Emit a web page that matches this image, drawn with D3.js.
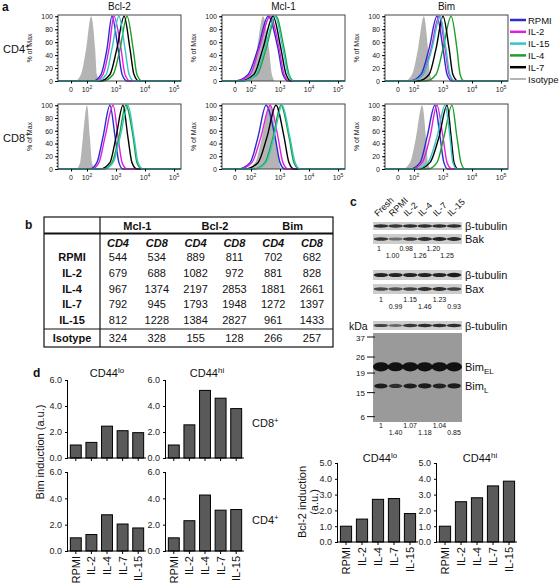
<!DOCTYPE html>
<html><head><meta charset="utf-8">
<script src="https://cdn.jsdelivr.net/npm/d3@7"></script>
<style>body{margin:0;background:#fff} svg{display:block} text{font-family:"Liberation Sans",Arial,Helvetica,sans-serif;fill:#111}</style>
</head><body><svg id="c" width="560" height="588"></svg>
<script>
// ================= DATA =================
// (a) flow histograms
const histTitles = ["Bcl-2","Mcl-1","Bim"];
const histRowLabels = ["CD4","CD8"];
const legendItems = ["RPMI","IL-2","IL-15","IL-4","IL-7","Isotype"];
const histTickVals = [1.45,2,3,4,5];
const histTickBase = ["0","10","10","10","10"];
const histTickExp = ["","2","3","4","5"];
const pctTicks = [0,20,40,60,80,100];
const pctLevels = [0,10,50,100,50,10,0];       // % of max at each point below
// log10 fluorescence at each pctLevel
const hBcl2CD4 = {
 Isotype:[1.59,1.79,1.97,2.14,2.28,2.34,2.45],
 RPMI:[2.21,2.48,2.69,2.86,3.07,3.21,3.38],
 "IL-2":[2.28,2.55,2.76,2.93,3.17,3.31,3.48],
 "IL-15":[2.34,2.66,2.86,3.10,3.31,3.45,3.62],
 "IL-7":[2.45,2.79,3.03,3.28,3.48,3.62,3.79],
 "IL-4":[2.55,2.90,3.14,3.38,3.59,3.72,3.90]};
const hBcl2CD8 = {
 Isotype:[1.62,1.76,1.86,2.00,2.10,2.17,2.28],
 RPMI:[2.10,2.34,2.55,2.79,2.97,3.10,3.24],
 "IL-2":[2.17,2.41,2.62,2.90,3.07,3.21,3.38],
 "IL-7":[2.45,2.79,3.00,3.24,3.41,3.55,3.72],
 "IL-15":[2.59,2.90,3.14,3.41,3.62,3.76,3.93],
 "IL-4":[2.55,2.86,3.10,3.34,3.59,3.72,3.90]};
const hMcl1CD4 = {
 Isotype:[1.62,1.97,2.21,2.41,2.62,2.72,2.83],
 RPMI:[1.45,1.90,2.24,2.59,2.93,3.10,3.28],
 "IL-2":[1.48,1.97,2.28,2.66,2.97,3.14,3.31],
 "IL-7":[1.62,2.10,2.41,2.76,3.03,3.21,3.38],
 "IL-15":[1.69,2.17,2.48,2.83,3.10,3.28,3.45],
 "IL-4":[1.69,2.21,2.52,2.86,3.14,3.31,3.48]};
const hMcl1CD8 = {
 Isotype:[1.79,2.14,2.38,2.66,2.86,2.97,3.07],
 RPMI:[1.55,1.97,2.24,2.52,2.83,3.00,3.17],
 "IL-2":[1.62,2.03,2.34,2.66,2.93,3.10,3.28],
 "IL-7":[1.79,2.24,2.55,2.86,3.14,3.31,3.48],
 "IL-15":[2.14,2.52,2.79,3.07,3.34,3.52,3.69],
 "IL-4":[2.10,2.48,2.76,3.03,3.31,3.48,3.66]};
const hBimCD4 = {
 Isotype:[1.69,1.93,2.14,2.34,2.48,2.55,2.66],
 RPMI:[1.86,2.24,2.52,2.79,3.00,3.14,3.31],
 "IL-2":[1.93,2.31,2.59,2.86,3.07,3.21,3.38],
 "IL-15":[1.93,2.31,2.62,2.90,3.10,3.24,3.41],
 "IL-7":[2.14,2.52,2.76,3.00,3.21,3.34,3.52],
 "IL-4":[2.41,2.76,3.00,3.28,3.48,3.59,3.72]};
const hBimCD8 = {
 Isotype:[1.59,1.86,2.07,2.28,2.41,2.48,2.59],
 RPMI:[1.86,2.21,2.45,2.72,2.90,3.03,3.17],
 "IL-2":[1.93,2.28,2.55,2.79,3.00,3.14,3.31],
 "IL-15":[2.07,2.48,2.79,3.07,3.24,3.34,3.48],
 "IL-7":[2.14,2.55,2.86,3.14,3.28,3.38,3.52],
 "IL-4":[2.48,2.79,3.03,3.31,3.48,3.62,3.76]};

// (b) MFI table
const tableGroups = ["Mcl-1","Bcl-2","Bim"];
const tableSub = ["CD4","CD8","CD4","CD8","CD4","CD8"];
const tableRows = ["RPMI","IL-2","IL-4","IL-7","IL-15","Isotype"];
const tMcl1CD4 = [544,679,967,792,812,324];
const tMcl1CD8 = [534,688,1374,945,1228,328];
const tBcl2CD4 = [889,1082,2197,1793,1384,155];
const tBcl2CD8 = [811,972,2853,1948,2827,128];
const tBimCD4  = [702,881,1881,1272,961,266];
const tBimCD8  = [682,828,2661,1397,1433,257];

// (c) western blots
const lanes = ["Fresh","RPMI","IL-2","IL-4","IL-7","IL-15"];
const bakRatio = ["1","1.00","0.98","1.26","1.20","1.25"];
const baxRatio = ["1","0.99","1.15","1.46","1.23","0.93"];
const bimRatio = ["1","1.40","1.07","1.18","1.04","0.85"];
const tub1Band = [0.85,0.80,0.85,0.85,0.85,0.85];
const bakBand  = [0.80,0.50,0.80,0.85,0.90,0.85];
const tub2Band = [0.90,0.90,0.90,0.90,0.90,0.95];
const baxBand  = [0.70,0.65,0.75,0.85,0.85,0.75];
const tub3Band = [0.75,0.55,0.80,0.85,0.85,0.85];
const bimELBand = [1.00,0.90,1.00,1.00,1.00,1.00];
const bimLBand  = [0.80,0.55,0.80,0.85,0.75,0.85];
const kdaMarkers = ["37","26","19","15","6"];
const kdaRf = [0.045,0.27,0.45,0.67,0.94];   // relative migration
const bimELRf = 0.38, bimLRf = 0.595;

// (d) induction bar charts
const barCats = ["RPMI","IL-2","IL-4","IL-7","IL-15"];
const bimCD8lo = [1.0,1.2,2.45,2.1,1.95];
const bimCD8hi = [1.0,2.55,5.2,4.6,3.8];
const bimCD4lo = [1.0,1.25,2.75,2.05,1.75];
const bimCD4hi = [1.0,2.3,4.25,3.1,3.15];
const bcl2lo = [1.0,1.45,2.7,2.75,1.8];
const bcl2hi = [1.0,2.55,2.8,3.55,3.85];
const bimTicks = [0,2,4,6];
const bcl2Ticks = [0,1,2,3,4,5];

// ================= STYLE =================
const color = {RPMI:"#2b2bd0","IL-2":"#e020e0","IL-15":"#33c6c6","IL-4":"#1e9e2a","IL-7":"#000000",Isotype:"#b4b4b4"};
const lineOrder = ["RPMI","IL-2","IL-4","IL-7","IL-15"];
const svg = d3.select("#c");

function label(x,y,t,o={}){
  return svg.append("text").attr("x",x).attr("y",y).text(t)
    .attr("font-size",o.size||11).attr("font-weight",o.bold?"bold":null)
    .attr("font-style",o.italic?"italic":null).attr("text-anchor",o.anchor||"start");
}
function supLabel(x,y,base,sup,o={}){
  const t = svg.append("text").attr("x",x).attr("y",y).attr("font-size",o.size||11)
    .attr("text-anchor",o.anchor||"start");
  t.append("tspan").text(base);
  t.append("tspan").text(sup).attr("font-size",(o.size||11)*0.72).attr("dy",-(o.size||11)*0.4);
  return t;
}

// ================= (a) =================
label(2,11,"a",{size:12,bold:true});
const colLeft=[58,222,385], boxW=123;
const rowTop=[15,104], rowBot=[81,169];
const histData=[[hBcl2CD4,hMcl1CD4,hBimCD4],[hBcl2CD8,hMcl1CD8,hBimCD8]];
histTitles.forEach((t,c)=>label(colLeft[c]+boxW/2,10,t,{size:10,anchor:"middle"}));
histRowLabels.forEach((t,r)=>supLabel(3,(rowTop[r]+rowBot[r])/2+5,t,"+",{size:11}));

for(let r=0;r<2;r++)for(let c=0;c<3;c++){
  const L=colLeft[c], T=rowTop[r], B=rowBot[r];
  const x=d3.scaleLinear().domain([1.0,5.24]).range([L,L+boxW]);
  const y=d3.scaleLinear().domain([0,102]).range([B,T]);
  const g=svg.append("g");
  const hd=histData[r][c];
  const pts=k=>[[1.0,0]].concat(hd[k].map((v,i)=>[v,pctLevels[i]])).concat([[5.24,0]]);
  g.append("path").datum(pts("Isotype"))
    .attr("d",d3.area().x(d=>x(d[0])).y0(y(0)).y1(d=>y(d[1])).curve(d3.curveMonotoneX))
    .attr("fill",color.Isotype).attr("stroke","none");
  lineOrder.forEach(k=>{
    g.append("path").datum(pts(k))
      .attr("d",d3.line().x(d=>x(d[0])).y(d=>y(d[1])).curve(d3.curveMonotoneX))
      .attr("fill","none").attr("stroke",color[k]).attr("stroke-width",1.4);
  });
  g.append("rect").attr("x",L).attr("y",T).attr("width",boxW).attr("height",B-T)
    .attr("fill","none").attr("stroke","#444").attr("stroke-width",1);
  // y axis
  const ya=svg.append("g").attr("transform",`translate(${L},0)`)
    .call(d3.axisLeft(y).tickValues(pctTicks).tickSize(3).tickPadding(2));
  ya.select(".domain").remove();
  ya.selectAll("text").attr("font-size",7).style("fill","#222");
  const ym=svg.append("g").attr("transform",`translate(${L},0)`)
    .call(d3.axisLeft(y).tickValues(d3.range(0,101,5)).tickSize(1.5).tickFormat(""));
  ym.select(".domain").remove();
  // x axis
  const xa=svg.append("g").attr("transform",`translate(0,${B})`)
    .call(d3.axisBottom(x).tickValues(histTickVals).tickSize(2.5).tickFormat(""));
  xa.select(".domain").remove();
  histTickVals.forEach((v,i)=>{
    const tx=svg.append("text").attr("x",x(v)).attr("y",B+11).attr("font-size",7)
      .attr("text-anchor","middle").style("fill","#222");
    tx.append("tspan").text(histTickBase[i]);
    if(histTickExp[i]) tx.append("tspan").text(histTickExp[i]).attr("font-size",5).attr("dy",-3);
  });
  // y title
  svg.append("text").attr("transform",`translate(${L-26},${(T+B)/2}) rotate(-90)`)
    .attr("text-anchor","middle").attr("font-size",7).style("fill","#222").text("% of Max");
}
// legend
const legY=d3.scalePoint().domain(legendItems).range([20,79]);
legendItems.forEach(k=>{
  svg.append("line").attr("x1",510).attr("x2",526).attr("y1",legY(k)).attr("y2",legY(k))
    .attr("stroke",color[k]).attr("stroke-width",k==="Isotype"?2:2.5);
  label(528,legY(k)+3.5,k,{size:9.5});
});

// ================= (b) =================
label(25,229,"b",{size:12,bold:true});
const tL=44,tR=333,tT=217,tB=347,tV=100;
svg.append("rect").attr("x",tL).attr("y",tT).attr("width",tR-tL).attr("height",tB-tT)
  .attr("fill","none").attr("stroke","#111").attr("stroke-width",1.2);
svg.append("line").attr("x1",tV).attr("x2",tV).attr("y1",tT).attr("y2",tB).attr("stroke","#111").attr("stroke-width",1.2);
svg.append("line").attr("x1",tL).attr("x2",tR).attr("y1",233.5).attr("y2",233.5).attr("stroke","#111").attr("stroke-width",2);
svg.append("line").attr("x1",tL).attr("x2",tR).attr("y1",329).attr("y2",329).attr("stroke","#111").attr("stroke-width",1.2);
const colX=d3.scalePoint().domain(d3.range(6)).range([118,312]);
tableGroups.forEach((g,i)=>label((colX(2*i)+colX(2*i+1))/2,230,g,{size:11,bold:true,anchor:"middle"}));
tableSub.forEach((s,i)=>label(colX(i),247,s,{size:11,bold:true,italic:true,anchor:"middle"}));
const rowY=d3.scalePoint().domain(tableRows.slice(0,5)).range([261,324]);
const rowYf=k=>k==="Isotype"?341.5:rowY(k);
const tCols=[tMcl1CD4,tMcl1CD8,tBcl2CD4,tBcl2CD8,tBimCD4,tBimCD8];
tableRows.forEach((rname,ri)=>{
  label(72,rowYf(rname),rname,{size:11,bold:true,anchor:"middle"});
  tCols.forEach((col,ci)=>label(colX(ci),rowYf(rname),String(col[ri]),{size:11,anchor:"middle"}));
});

// ================= (c) =================
label(350,206,"c",{size:12,bold:true});
const blotL=373, blotR=462;
const laneX=d3.scaleBand().domain(lanes).range([blotL,blotR]).padding(0.08);
const lc=k=>laneX(k)+laneX.bandwidth()/2;
lanes.forEach(k=>{
  svg.append("text").attr("transform",`translate(${lc(k)-3},217) rotate(-45)`)
    .attr("font-size",9).text(k);
});
function strip(y0,y1,bands,th,bg){
  svg.append("rect").attr("x",blotL).attr("y",y0).attr("width",blotR-blotL).attr("height",y1-y0).attr("fill",bg||"#cdcdcd");
  lanes.forEach((k,i)=>{
    svg.append("ellipse").attr("cx",lc(k)).attr("cy",(y0+y1)/2)
      .attr("rx",laneX.bandwidth()/2+0.5).attr("ry",th*(0.6+0.4*bands[i]))
      .attr("fill","#111").attr("opacity",bands[i]);
  });
}
strip(222,230,tub1Band,1.8);
strip(234,244,bakBand,2.0);
strip(270,280,tub2Band,2.2);
strip(284,294,baxBand,2.0);
strip(321,330,tub3Band,1.8);
label(465,229.5,"β-tubulin",{size:11});
label(465,243,"Bak",{size:11});
label(465,279,"β-tubulin",{size:11});
label(465,293,"Bax",{size:11});
label(465,330,"β-tubulin",{size:11});
const bakX=d3.scalePoint().domain(lanes).range([379,447]);
function ratios(arr,xf,yHigh){
  lanes.forEach((k,i)=>label(xf(k),i%2===0?yHigh:yHigh+7,arr[i],{size:7,anchor:"middle"}));
}
ratios(bakRatio,bakX,251);
ratios(baxRatio,lc,302);
ratios(bimRatio,lc,428);
// big Bim blot
const bT=333,bB=422;
const rf=d3.scaleLinear().domain([0,1]).range([bT,bB]);
svg.append("rect").attr("x",blotL).attr("y",bT).attr("width",blotR-blotL).attr("height",bB-bT).attr("fill","#9a9a9a");
lanes.forEach((k,i)=>{
  svg.append("ellipse").attr("cx",lc(k)).attr("cy",rf(bimELRf)).attr("rx",laneX.bandwidth()/2+1.2)
    .attr("ry",3.4+1.2*bimELBand[i]).attr("fill","#0a0a0a").attr("opacity",0.95);
  svg.append("ellipse").attr("cx",lc(k)).attr("cy",rf(bimLRf)).attr("rx",laneX.bandwidth()/2)
    .attr("ry",1.4+1.4*bimLBand[i]).attr("fill","#111").attr("opacity",0.5+0.5*bimLBand[i]);
});
label(349,330,"kDa",{size:10.5});
kdaMarkers.forEach((m,i)=>{
  svg.append("line").attr("x1",367).attr("x2",375).attr("y1",rf(kdaRf[i])).attr("y2",rf(kdaRf[i])).attr("stroke","#111");
  label(365,rf(kdaRf[i])+(i===0?4:3),m,{size:8,anchor:"end"});
});
const el=svg.append("text").attr("x",465).attr("y",371).attr("font-size",11);
el.append("tspan").text("Bim"); el.append("tspan").text("EL").attr("font-size",8).attr("dy",3);
const bl=svg.append("text").attr("x",465).attr("y",390).attr("font-size",11);
bl.append("tspan").text("Bim"); bl.append("tspan").text("L").attr("font-size",8).attr("dy",3);

// ================= (d) =================
label(33,377,"d",{size:12,bold:true});
function bars(ax,axEnd,y0,yTop,max,ticks,vals,showX,labelY){
  const x=d3.scaleBand().domain(barCats).range([ax,axEnd]).paddingInner(0.3).paddingOuter(0.15);
  const y=d3.scaleLinear().domain([0,max]).range([y0,yTop]);
  svg.selectAll(null).data(vals).enter().append("rect")
    .attr("x",(d,i)=>x(barCats[i])).attr("width",x.bandwidth())
    .attr("y",d=>y(d)).attr("height",d=>y(0)-y(d))
    .attr("fill","#5a5a5a").attr("stroke","#000").attr("stroke-width",1);
  const ya=svg.append("g").attr("transform",`translate(${ax},0)`)
    .call(d3.axisLeft(y).tickValues(ticks).tickSize(3).tickPadding(3));
  ya.selectAll("text").attr("font-size",9).style("fill","#222");
  ya.select(".domain").attr("d",`M-0.5,${y(max)}V${y0}`);
  const xa=svg.append("g").attr("transform",`translate(0,${y0})`)
    .call(d3.axisBottom(x).tickSize(3).tickFormat(""));
  xa.select(".domain").attr("d",`M${ax},0H${axEnd}`);
  if(showX){
    barCats.forEach(k=>{
      svg.append("text").attr("transform",`translate(${x(k)+x.bandwidth()/2+4},${labelY}) rotate(-90)`)
        .attr("text-anchor","end").attr("font-size",11).text(k);
    });
  }
}
bars(68,146,458,380,6,bimTicks,bimCD8lo,false);
bars(166,244,458,380,6,bimTicks,bimCD8hi,false);
bars(68,146,551,472,6,bimTicks,bimCD4lo,true,556);
bars(166,244,551,472,6,bimTicks,bimCD4hi,true,556);
bars(338,418,542,463,5,bcl2Ticks,bcl2lo,true,547);
bars(437,517,542,463,5,bcl2Ticks,bcl2hi,true,547);
supLabel(107,377,"CD44","lo",{size:11,anchor:"middle"});
supLabel(207,377,"CD44","hi",{size:11,anchor:"middle"});
supLabel(380,462,"CD44","lo",{size:11,anchor:"middle"});
supLabel(480,462,"CD44","hi",{size:11,anchor:"middle"});
supLabel(252,427,"CD8","+",{size:11});
supLabel(252,524,"CD4","+",{size:11});
svg.append("text").attr("transform","translate(44,452) rotate(-90)").attr("text-anchor","middle").attr("font-size",11).text("Bim induction (a.u.)");
svg.append("text").attr("transform","translate(306,502) rotate(-90)").attr("text-anchor","middle").attr("font-size",11).text("Bcl-2 induction");
svg.append("text").attr("transform","translate(318,502) rotate(-90)").attr("text-anchor","middle").attr("font-size",11).text("(a.u.)");
</script></body></html>
